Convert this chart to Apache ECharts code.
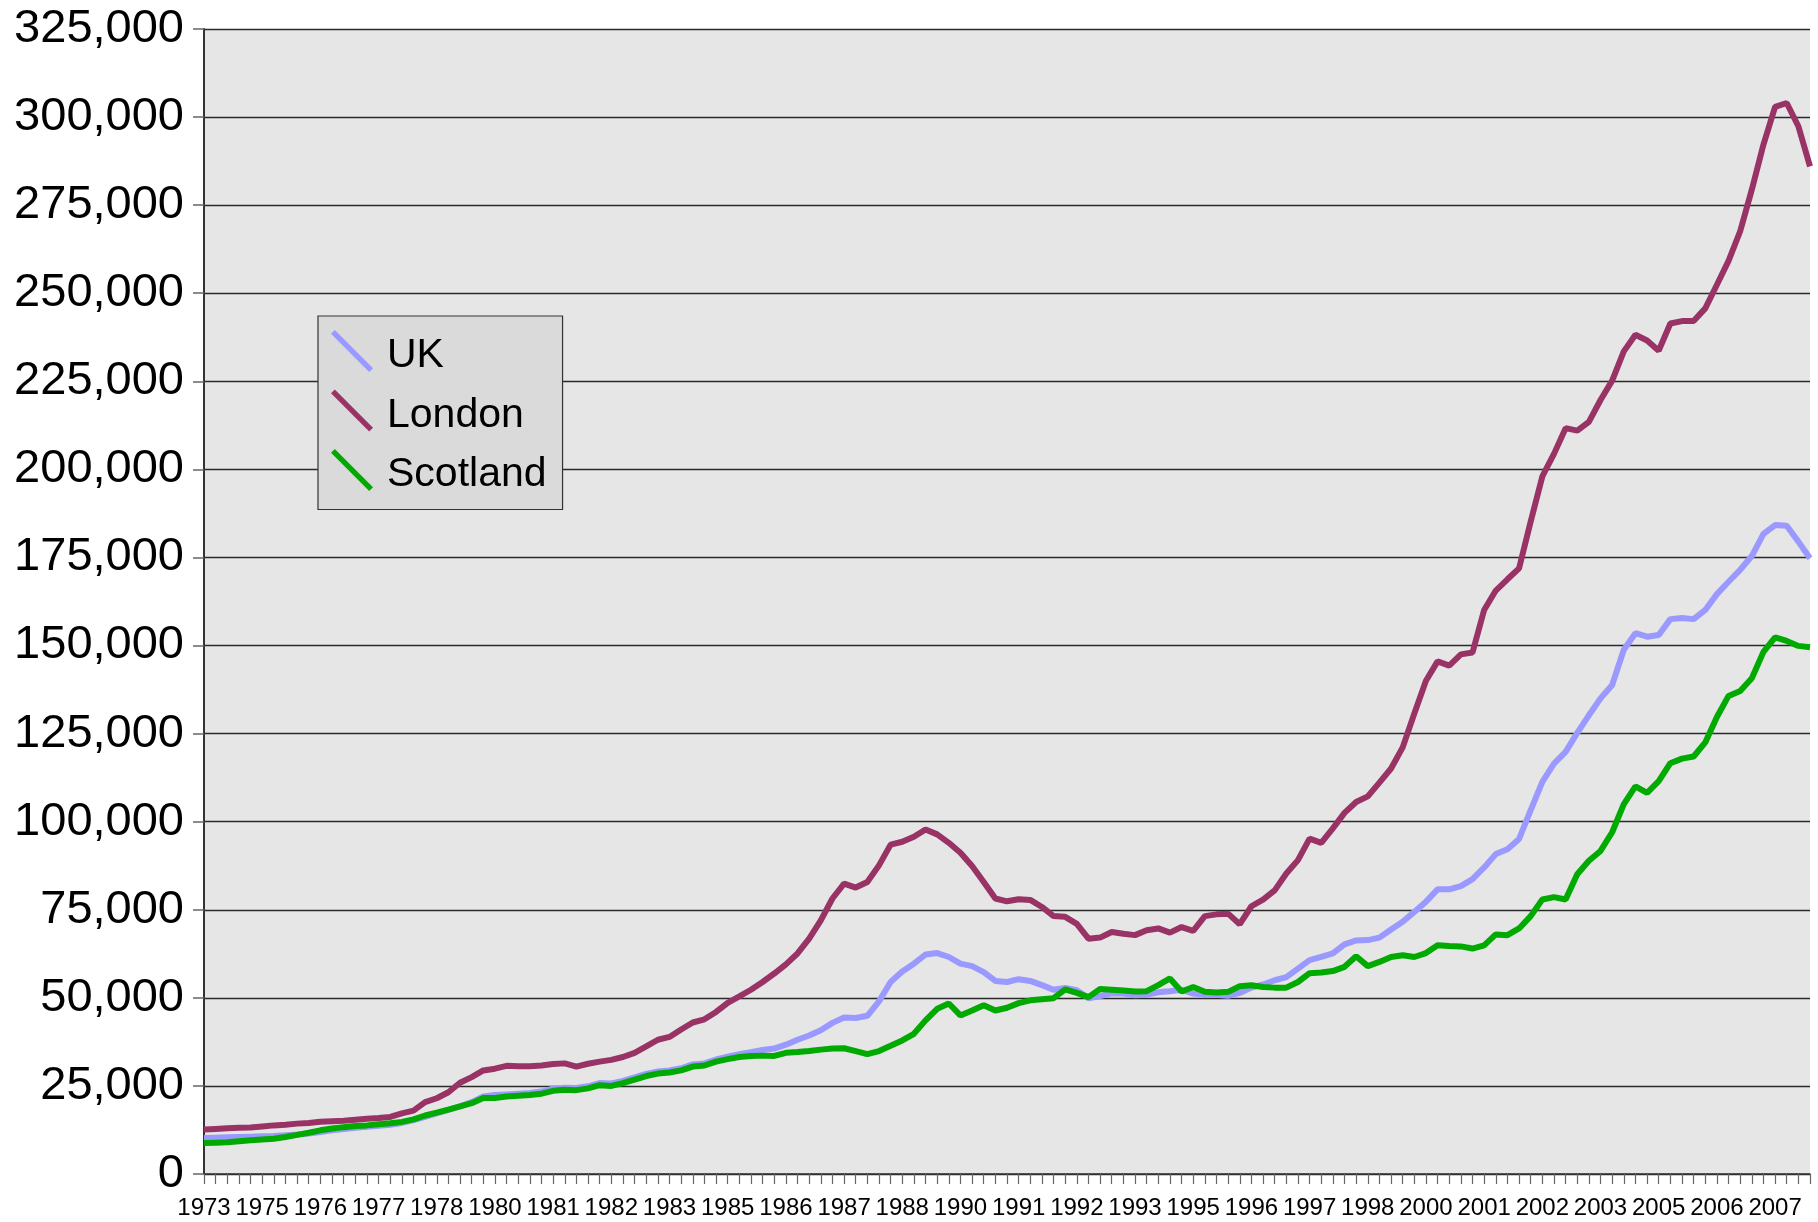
<!DOCTYPE html>
<html>
<head>
<meta charset="utf-8">
<title>House prices: UK, London, Scotland</title>
<script src="https://cdn.jsdelivr.net/npm/echarts@6/dist/echarts.min.js"></script>
<style>
  html, body { margin: 0; padding: 0; background: #fff; }
  #chart { width: 1818px; height: 1222px; }
</style>
</head>
<body>
<div id="chart"></div>
<script>
// quarterly series, 1973 Q4 .. 2008 Q2, values in thousands of pounds
const quarters = [];
for (let y = 1973, q = 4; y < 2008 || (y === 2008 && q <= 2); q++) {
  if (q > 4) { q = 1; y++; }
  if (y === 2008 && q > 2) break;
  quarters.push(y + ' Q' + q);
}

const ukPrice = [
  10.2, 10.3, 10.4, 10.5, 10.6, 10.7, 10.8, 11.0, 11.2, 11.5,
  11.9, 12.4, 12.8, 13.1, 13.4, 13.7, 14.0, 14.5, 15.3, 16.2,
  17.2, 18.2, 19.2, 20.4, 22.0, 22.4, 22.6, 22.8, 23.0, 23.4,
  24.2, 24.5, 24.4, 24.9, 25.8, 25.7, 26.4, 27.4, 28.4, 29.1,
  29.4, 30.0, 31.1, 31.4, 32.5, 33.3, 34.0, 34.6, 35.2, 35.6,
  36.7, 38.1, 39.3, 40.8, 42.9, 44.4, 44.3, 44.9, 49.0, 54.5,
  57.5, 59.7, 62.3, 62.7, 61.6, 59.7, 59.0, 57.3, 54.8, 54.5,
  55.3, 54.8, 53.6, 52.3, 52.8, 52.2, 49.9, 50.5, 51.3, 51.2,
  50.7, 50.9, 51.6, 51.9, 52.3, 51.2, 50.9, 50.9, 50.6, 51.4,
  52.9, 53.8, 55.0, 55.9, 58.3, 60.7, 61.6, 62.6, 65.2, 66.3,
  66.4, 67.1, 69.4, 71.6, 74.4, 77.3, 80.8, 80.8, 81.7, 83.7,
  87.0, 90.8, 92.2, 95.1, 103.3, 111.3, 116.5, 119.8, 125.2, 130.2,
  135.0, 138.8, 148.8, 153.5, 152.5, 153.0, 157.5, 157.8, 157.5, 160.1,
  164.6, 168.1, 171.5, 175.4, 181.7, 184.2, 184.0, 179.5, 174.8
];

const londonPrice = [
  12.6, 12.8, 13.0, 13.1, 13.2, 13.5, 13.8, 14.0, 14.3, 14.5,
  14.8, 15.0, 15.1, 15.4, 15.7, 15.9, 16.2, 17.2, 18.0, 20.4,
  21.5, 23.2, 25.9, 27.5, 29.4, 29.9, 30.7, 30.6, 30.6, 30.8,
  31.2, 31.4, 30.5, 31.3, 31.9, 32.4, 33.2, 34.4, 36.2, 38.1,
  38.9, 41.0, 43.0, 43.9, 46.0, 48.6, 50.4, 52.3, 54.5, 56.9,
  59.5, 62.6, 66.8, 72.0, 78.2, 82.4, 81.3, 82.9, 87.6, 93.5,
  94.3, 95.7, 97.8, 96.4, 94.0, 91.2, 87.4, 82.9, 78.2, 77.4,
  78.0, 77.8, 75.8, 73.2, 73.0, 71.0, 66.8, 67.1, 68.7, 68.2,
  67.8, 69.2, 69.7, 68.5, 70.1, 69.0, 73.2, 73.7, 73.9, 70.9,
  76.0, 77.9, 80.5, 85.3, 89.1, 95.2, 94.0, 98.1, 102.5, 105.6,
  107.2, 111.1, 115.1, 121.1, 130.7, 140.0, 145.5, 144.3, 147.5, 148.0,
  160.1, 165.6, 168.8, 171.9, 185.2, 198.0, 204.4, 211.7, 211.0, 213.5,
  219.7, 225.2, 233.5, 238.2, 236.6, 233.7, 241.4, 242.1, 242.1, 245.7,
  252.4, 259.2, 267.6, 279.4, 292.2, 302.9, 304.0, 297.4, 286.0
];

const scotlandPrice = [
  8.8, 8.9, 9.0, 9.3, 9.6, 9.8, 10.0, 10.5, 11.1, 11.7,
  12.4, 12.9, 13.3, 13.6, 13.8, 14.1, 14.4, 14.8, 15.5, 16.6,
  17.4, 18.3, 19.2, 20.1, 21.6, 21.6, 22.0, 22.2, 22.4, 22.8,
  23.6, 23.9, 23.8, 24.3, 25.2, 25.0, 25.8, 26.8, 27.8, 28.5,
  28.8, 29.4, 30.5, 30.8, 31.9, 32.6, 33.2, 33.5, 33.6, 33.5,
  34.4, 34.6, 34.9, 35.3, 35.6, 35.7, 34.9, 34.0, 34.9, 36.4,
  37.9, 39.8, 43.6, 46.9, 48.4, 45.0, 46.4, 47.9, 46.4, 47.2,
  48.5, 49.3, 49.6, 49.9, 52.4, 51.4, 50.2, 52.5, 52.3, 52.1,
  51.8, 51.9, 53.6, 55.5, 51.8, 53.1, 51.7, 51.5, 51.7, 53.3,
  53.6, 53.1, 52.9, 52.9, 54.5, 57.0, 57.2, 57.6, 58.8, 61.8,
  59.0, 60.2, 61.6, 62.1, 61.6, 62.7, 64.9, 64.7, 64.6, 64.0,
  64.9, 68.0, 67.8, 69.7, 73.2, 77.9, 78.6, 77.9, 85.1, 88.9,
  91.7, 97.0, 105.0, 110.0, 108.2, 111.5, 116.6, 117.9, 118.5, 122.5,
  129.7, 135.7, 137.1, 140.7, 148.2, 152.3, 151.3, 149.9, 149.5
];

const yTicks = { min: 0, max: 325, step: 25 };

const FONT = '"Liberation Sans", Arial, sans-serif';
const legendIcon = 'path://M0,3.8 L3.8,0 L42,38.2 L38.2,42 Z';

const chart = echarts.init(document.getElementById('chart'));

const option = {
  animation: false,
  backgroundColor: '#ffffff',
  textStyle: { fontFamily: FONT },
  grid: {
    left: 204,
    right: 8,
    top: 29,
    bottom: 48,
    show: true,
    backgroundColor: '#e6e6e6',
    borderWidth: 0
  },
  legend: {
    orient: 'vertical',
    left: 318,
    top: 316,
    padding: [14, 16, 14, 13],
    itemGap: 13,
    itemWidth: 42,
    itemHeight: 42,
    itemStyle: { borderWidth: 0 },
    backgroundColor: '#dadada',
    borderColor: '#333',
    borderWidth: 1.2,
    formatter: name => '{t|' + name + '}',
    textStyle: {
      fontSize: 41,
      color: '#000',
      fontFamily: FONT,
      padding: [0, 0, 0, 9],
      rich: {
        t: { fontSize: 41, color: '#000', fontFamily: FONT, padding: [10, 0, 0, 0] }
      }
    },
    data: [
      { name: 'UK', icon: legendIcon },
      { name: 'London', icon: legendIcon },
      { name: 'Scotland', icon: legendIcon }
    ]
  },
  xAxis: {
    type: 'category',
    data: quarters,
    boundaryGap: false,
    axisLine: { show: true, lineStyle: { color: '#333', width: 1.5 } },
    axisTick: {
      show: true,
      interval: 0,
      length: 10,
      lineStyle: { color: '#666', width: 1.2 }
    },
    axisLabel: {
      interval: 4,
      margin: 22,
      fontSize: 24,
      color: '#000',
      fontFamily: FONT,
      formatter: v => v.slice(0, 4)
    },
    splitLine: { show: false }
  },
  yAxis: {
    type: 'value',
    min: yTicks.min,
    max: yTicks.max,
    interval: yTicks.step,
    axisLine: { show: true, lineStyle: { color: '#333', width: 2 } },
    axisTick: { show: true, length: 11, lineStyle: { color: '#666', width: 1.5 } },
    axisLabel: {
      margin: 20,
      fontSize: 47,
      color: '#000',
      fontFamily: FONT,
      formatter: v => (v * 1000).toLocaleString('en-US')
    },
    splitLine: { show: true, lineStyle: { color: '#2a2a2a', width: 1.3 } }
  },
  series: [
    {
      name: 'UK',
      type: 'line',
      data: ukPrice,
      showSymbol: false,
      color: '#9999ff',
      lineStyle: { width: 6, color: '#9999ff' },
      z: 2
    },
    {
      name: 'London',
      type: 'line',
      data: londonPrice,
      showSymbol: false,
      color: '#993366',
      lineStyle: { width: 6, color: '#993366' },
      z: 3
    },
    {
      name: 'Scotland',
      type: 'line',
      data: scotlandPrice,
      showSymbol: false,
      color: '#00aa00',
      lineStyle: { width: 6, color: '#00aa00' },
      z: 4
    }
  ]
};

chart.setOption(option);
</script>
</body>
</html>
